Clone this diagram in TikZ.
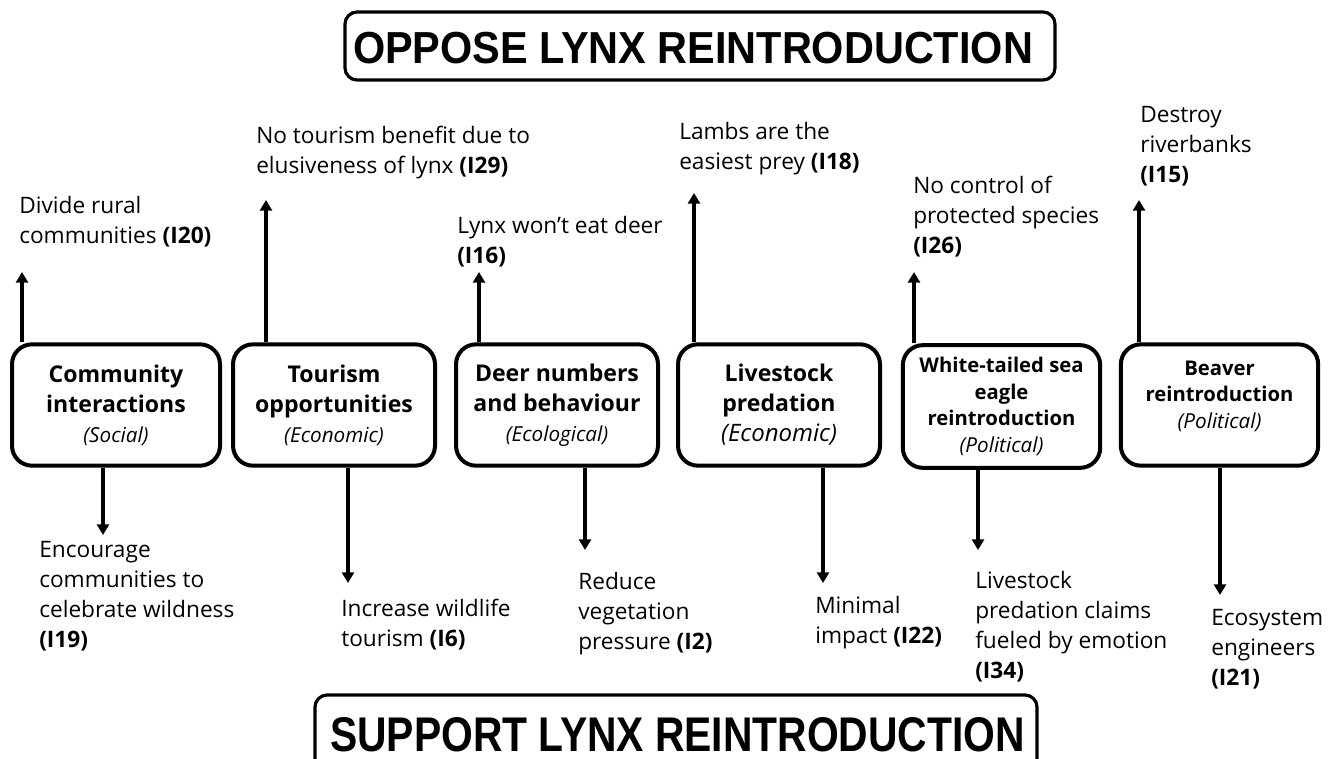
\documentclass[tikz,border=0pt]{standalone}
\usepackage{fontspec}
\setmainfont{Open Sans}
\newfontfamily\titlefont{Liberation Sans}
\usetikzlibrary{arrows.meta}
\tikzset{
  catbox/.style={draw, line width=3pt, rounded corners=15pt, minimum height=91pt,
    inner sep=0pt, align=center, font=\fontsize{17.3}{22.5}\selectfont\bfseries},
  smallcat/.style={catbox, font=\fontsize{15.2}{19.8}\selectfont\bfseries},
  cattext/.style={inner sep=0pt, align=center, font=\fontsize{15.2}{19.8}\selectfont\bfseries},
  titlebox/.style={draw, line width=2.4pt, rounded corners=9pt},
  lbl/.style={anchor=north west, inner sep=0pt, align=left,
    font=\fontsize{17}{22.5}\selectfont},
  arr/.style={line width=2.6pt, -{Triangle[length=8pt,width=9pt]}},
}
\newcommand{\cat}[1]{{\fontsize{15.5}{20}\selectfont\mdseries\itshape #1}}
\begin{document}
\begin{tikzpicture}[x=0.75pt,y=-0.75pt]
\useasboundingbox (0,0) rectangle (1344,759);
% titles
\node[titlebox, minimum width=532.5pt, minimum height=51pt] (opbox) at (700,46) {};
\node[anchor=base, inner sep=0pt] (optext) at (693,64)
  {\resizebox{510pt}{23.5pt}{\titlefont\bfseries OPPOSE LYNX REINTRODUCTION}};
\node[titlebox, minimum width=541.5pt, minimum height=75pt] (supbox) at (676,745) {};
\node[anchor=base, inner sep=0pt] (suptext) at (677.5,751)
  {\resizebox{521pt}{25.5pt}{\titlefont\bfseries SUPPORT LYNX REINTRODUCTION}};
% category boxes
\node[catbox, minimum width=156pt] (c1) at (116,405)
  {Community\\interactions\\\cat{(Social)}};
\node[catbox, minimum width=151.5pt] (c2) at (334,405)
  {Tourism\\opportunities\\\cat{(Economic)}};
\node[catbox, minimum width=151.5pt] (c3) at (557,405)
  {Deer numbers\\and behaviour\\\cat{(Ecological)}};
\node[catbox, minimum width=151.5pt] (c4) at (779,405)
  {Livestock\\predation\\{\fontsize{18}{20}\selectfont\mdseries\itshape (Economic)}};
\node[smallcat, minimum width=148pt, minimum height=92pt] (c5) at (1001.5,406.5)
  {White-tailed sea\\eagle\\reintroduction\\\cat{(Political)}};
\node[catbox, minimum width=148pt] (c6) at (1219.5,405) {};
\node[cattext] (c6t) at (1219.5,396)
  {Beaver\\reintroduction\\\cat{(Political)}};
% arrow tips
\coordinate (u1) at (22,272);
\coordinate (u2) at (266,200);
\coordinate (u3) at (479,272);
\coordinate (u4) at (694,193);
\coordinate (u5) at (914,272);
\coordinate (u6) at (1139,200);
\coordinate (d1) at (103,535);
\coordinate (d2) at (348,583);
\coordinate (d3) at (585,550);
\coordinate (d4) at (823,583);
\coordinate (d5) at (978,550);
\coordinate (d6) at (1220,595);
\foreach \i in {1,...,6}{
  \draw[arr] (u\i |- c\i.north) -- (u\i);
  \draw[arr] (d\i |- c\i.south) -- (d\i);
}
% oppose labels
\node[lbl] (o1) at (19,196) {Divide rural\\communities \textbf{(I20)}};
\node[lbl] (o2) at (256,126) {No tourism benefit due to\\elusiveness of lynx \textbf{(I29)}};
\node[lbl] (o3) at (457,216) {Lynx won’t eat deer\\\textbf{(I16)}};
\node[lbl] (o4) at (679,122) {Lambs are the\\easiest prey \textbf{(I18)}};
\node[lbl] (o5) at (913,176) {No control of\\protected species\\\textbf{(I26)}};
\node[lbl] (o6) at (1140,106) {Destroy\\riverbanks\\\textbf{(I15)}};
% support labels
\node[lbl] (s1) at (39,541) {Encourage\\communities to\\celebrate wildness\\\textbf{(I19)}};
\node[lbl] (s2) at (341,599) {Increase wildlife\\tourism \textbf{(I6)}};
\node[lbl] (s3) at (578,572) {Reduce\\vegetation\\pressure \textbf{(I2)}};
\node[lbl] (s4) at (815,596) {Minimal\\impact \textbf{(I22)}};
\node[lbl] (s5) at (975,571) {Livestock\\predation claims\\fueled by emotion\\\textbf{(I34)}};
\node[lbl] (s6) at (1211,609) {Ecosystem\\engineers\\\textbf{(I21)}};
\end{tikzpicture}
\end{document}
